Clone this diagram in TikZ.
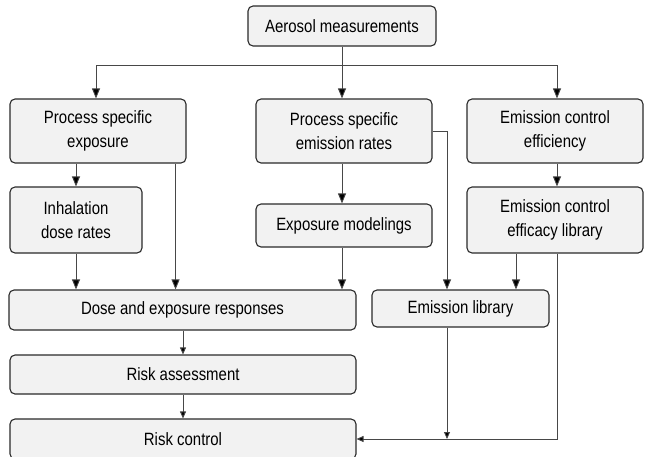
\documentclass[tikz,border=0pt]{standalone}
\usepackage{fontspec}
\setmainfont{Liberation Sans}[FakeStretch=0.84]
\usetikzlibrary{arrows.meta}
\definecolor{boxfill}{HTML}{F2F2F2}
\definecolor{boxline}{HTML}{2A2A2A}
\definecolor{conn}{HTML}{474747}
\tikzset{
  box/.style={draw=boxline, line width=1.1pt, fill=boxfill, rounded corners=5pt,
    align=center, inner sep=0pt, font=\fontsize{17.8}{24}\selectfont},
  bigarr/.style={draw=conn, line width=0.9pt, -{Triangle[length=10pt,width=8pt,fill=black]}},
  smallarr/.style={draw=conn, line width=0.9pt, -{Triangle[length=7pt,width=6pt,fill=black]}},
  plain/.style={draw=conn, line width=0.9pt}
}
\begin{document}
\begin{tikzpicture}[x=1pt,y=-1pt]
\useasboundingbox (0,0) rectangle (645,456);
% boxes
\node[box, minimum width=188, minimum height=40] (aer) at (342,26) {Aerosol measurements};
\node[box, minimum width=176, minimum height=64] (pse) at (98,131) {Process specific\\exposure};
\node[box, minimum width=176, minimum height=64] (pser) at (344,131) {Process specific\\emission rates};
\node[box, minimum width=176, minimum height=64] (ece) at (555,131) {Emission control\\efficiency};
\node[box, minimum width=132, minimum height=66] (inh) at (76,220) {Inhalation\\dose rates};
\node[box, minimum width=176, minimum height=43] (expm) at (344,225.5) {Exposure modelings};
\node[box, minimum width=176, minimum height=66] (eff) at (555,220) {Emission control\\efficacy library};
\node[box, minimum width=347, minimum height=40] (dose) at (182.5,310) {Dose and exposure responses};
\node[box, minimum width=177, minimum height=37] (emlib) at (460.5,308.5) {Emission library};
\node[box, minimum width=346, minimum height=39] (ra) at (183,374.5) {Risk assessment};
\node[box, minimum width=346, minimum height=40] (rc) at (183,439) {Risk control};
% top bus
\coordinate (bus) at (342,65);
\draw[plain] (aer.south -| bus) -- (bus);
\draw[bigarr] (bus) -| ([xshift=-2pt]pse.north);
\draw[bigarr] (bus) -- (bus |- pser.north);
\draw[bigarr] (bus) -| ([xshift=2pt]ece.north);
% left column
\draw[bigarr] (inh.north |- pse.south) -- (inh.north);
\draw[bigarr] ([xshift=-11pt]pse.south east) -- ([xshift=-11pt]pse.south east |- dose.north);
\draw[bigarr] (inh.south) -- (inh.south |- dose.north);
% middle column
\draw[bigarr] (pser.south -| bus) -- (expm.north -| bus);
\draw[bigarr] (expm.south -| bus) -- (dose.north -| bus);
\draw[bigarr] (pser.east) -| ([xshift=-13.5pt]emlib.north);
% right column
\draw[bigarr] ([xshift=2pt]ece.south) -- ([xshift=2pt]eff.north);
\draw[bigarr] ([xshift=-39pt]eff.south) -- ([xshift=-39pt]eff.south |- emlib.north);
\draw[smallarr] ([xshift=2pt]eff.south) |- (rc.east);
\draw[smallarr] ([xshift=-13.5pt]emlib.south) -- ([xshift=-13.5pt]emlib.south |- rc.east);
% bottom chain
\draw[smallarr] (dose.south -| ra.north) -- (ra.north);
\draw[smallarr] (ra.south) -- (rc.north);
\end{tikzpicture}
\end{document}
